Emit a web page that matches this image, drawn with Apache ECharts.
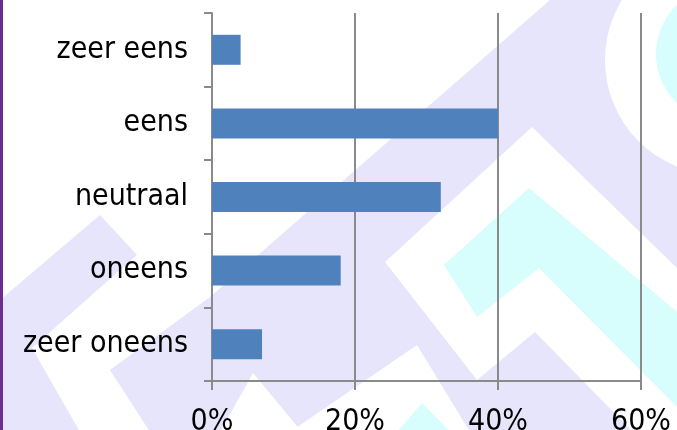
<!DOCTYPE html>
<html>
<head>
<meta charset="utf-8">
<script src="https://cdn.jsdelivr.net/npm/echarts@6/dist/echarts.min.js"></script>
<style>
html,body{margin:0;padding:0;background:#fff;}
#c{width:677px;height:430px;}
</style>
</head>
<body>
<div id="c"></div>
<script>
// Data
const categories = ['zeer oneens', 'oneens', 'neutraal', 'eens', 'zeer eens'];
const values = [7, 18, 32, 40, 4];
const xMin = 0, xMax = 60, xStep = 20;

// Background watermark shapes (decoration)
const LAV = '#e7e5fb', CYAN = '#d7fdfd', WHITE = '#ffffff';
function poly(points, fill) {
  return { type: 'polygon', silent: true, z: -100, shape: { points: points }, style: { fill: fill } };
}
function circ(cx, cy, r, fill) {
  return { type: 'circle', silent: true, z: -100, shape: { cx: cx, cy: cy, r: r }, style: { fill: fill } };
}
const bg = [
  poly([[550,0],[677,0],[677,432],[150,432],[110,370],[210,297]], LAV),
  poly([[0,300],[100,215],[137,255],[32,348],[80,432],[0,432]], LAV),
  circ(720, 60, 115, WHITE),
  circ(724, 54, 68, CYAN),
  poly([[385,262],[532,127],[677,268],[677,432],[633,432],[535,332],[477,380]], WHITE),
  poly([[444,265],[529,188],[677,312],[677,407],[539,268],[477,317]], CYAN),
  poly([[290,432],[417,345],[470,432]], WHITE),
  poly([[397,432],[422,403],[450,432]], CYAN),
  poly([[220,432],[253,373],[302,432]], WHITE),
  { type: 'rect', silent: true, z: 100, shape: { x: 0, y: 0, width: 3, height: 430 }, style: { fill: '#6b2d8f' } }
];

const chart = echarts.init(document.getElementById('c'), null, { renderer: 'canvas' });
const GRAY = '#8a8a8a';
const FONT = '"DejaVu Sans Condensed", "DejaVu Sans", sans-serif';
chart.setOption({
  backgroundColor: '#ffffff',
  animation: false,
  graphic: bg,
  grid: { left: 212, right: 36, top: 13, bottom: 49, containLabel: false, outerBoundsMode: 'none' },
  xAxis: {
    type: 'value', min: xMin, max: xMax, interval: xStep,
    axisLine: { show: true, lineStyle: { color: GRAY, width: 2 } },
    axisTick: { show: true, length: 9, lineStyle: { color: GRAY, width: 2 } },
    splitLine: { show: true, lineStyle: { color: GRAY, width: 2 } },
    axisLabel: { formatter: '{value}%', color: '#000', fontSize: 30, fontFamily: FONT, margin: 26 }
  },
  yAxis: {
    type: 'category', data: categories,
    axisLine: { show: true, lineStyle: { color: GRAY, width: 2 } },
    axisTick: { show: true, length: 8, alignWithLabel: false, lineStyle: { color: GRAY, width: 2 } },
    axisLabel: { color: '#000', fontSize: 30, fontFamily: FONT, margin: 24 }
  },
  series: [{
    type: 'bar', data: values, barWidth: 30,
    itemStyle: { color: '#4f81bd' }
  }]
});
</script>
</body>
</html>
